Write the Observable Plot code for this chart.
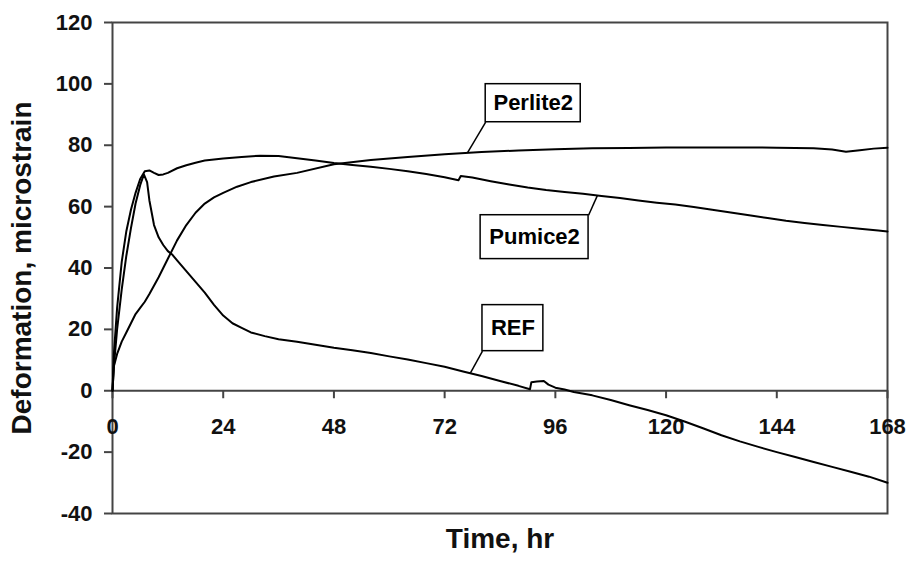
<!DOCTYPE html>
<html>
<head>
<meta charset="utf-8">
<script src="https://cdn.jsdelivr.net/npm/d3@7"></script>
<script src="https://cdn.jsdelivr.net/npm/@observablehq/plot@0.6"></script>
<style>
  html, body { margin: 0; padding: 0; background: #fff; }
</style>
</head>
<body>
<div id="chart"></div>
<script>
// ---- data ----
const refT = [0,0.3,1,2,3,4,5,6,6.8,7.5,8,9,10,11,12,13,14,16,18,20,22,24,26,28,30,33,36,40,44,48,52,56,60,64,68,72,76,80,84,88,90.5,90.8,92,93.5,94.5,96,98,100,104,108,112,116,120,124,128,132,136,140,144,148,152,156,160,164,168];
const refY = [0,8,20,33,44,53,61,67,70.5,68,62,54,50,47.5,45.5,44.3,42.5,39,35.5,32,28,24.5,22,20.5,19,17.8,16.8,16,15,14,13.2,12.3,11.2,10.2,9,7.8,6.3,4.8,3.2,1.6,0.5,2.8,3,3.2,2,1,0.4,-0.4,-1.5,-3,-4.7,-6.3,-8,-10,-12.2,-14.5,-16.5,-18.3,-20,-21.6,-23.2,-24.8,-26.4,-28,-30];

const pumiceT = [0,0.3,1,2,3,4,5,6,7,8,9,10,11,12,14,16,18,20,24,28,32,36,40,44,48,52,56,60,64,68,72,75,75.5,78,82,86,90,94,98,102,106,110,114,118,122,126,130,134,138,142,146,150,154,158,162,166,168];
const pumiceY = [0,12,27,42,52,59,64.5,69,71.5,71.8,71,70.3,70.5,71,72.5,73.5,74.3,75,75.7,76.2,76.6,76.5,75.8,75,74.2,73.6,73,72.3,71.5,70.6,69.6,68.6,70,69.5,68.3,67.2,66.2,65.4,64.8,64.2,63.5,62.8,62,61.3,60.7,59.9,59,58.1,57.2,56.3,55.4,54.7,54,53.4,52.8,52.2,51.9];

const perliteT = [0,0.3,1,2,3,4,5,6,7,8,10,12,14,16,18,20,22,24,27,30,35,40,48,56,64,72,80,88,96,104,112,120,128,136,144,152,156,159,162,165,168];
const perliteY = [0,8,12,16,19,22,25,27,29,31.5,37,43,49,54,58,61,63,64.5,66.5,68,69.8,71,73.8,75.2,76.2,77.1,77.8,78.3,78.7,79,79.1,79.3,79.3,79.3,79.2,79,78.6,77.9,78.4,78.9,79.2];

const xTicks = [0,24,48,72,96,120,144,168];
const yTicks = [-40,-20,0,20,40,60,80,100,120];

// annotation boxes (data units): label, box extent, leader end on curve
const labelNames = ["Perlite2","Pumice2","REF"];
const labelBoxT1 = [80.9, 79.8, 80.2];
const labelBoxT2 = [101.5, 103.2, 93.4];
const labelBoxY1 = [87.5, 42.9, 12.9];
const labelBoxY2 = [99.9, 57.2, 27.9];
const leaderFromT = [80.9, 103.2, 80.2];
const leaderFromY = [87.5, 57.2, 12.9];
const leaderToT = [77.0, 105.1, 77.6];
const leaderToY = [77.7, 63.6, 5.8];

// ---- build tables ----
const series = [
  ...refT.map((t, i) => ({t, v: refY[i], s: "REF"})),
  ...pumiceT.map((t, i) => ({t, v: pumiceY[i], s: "Pumice2"})),
  ...perliteT.map((t, i) => ({t, v: perliteY[i], s: "Perlite2"}))
];
const labels = labelNames.map((name, i) => ({
  name,
  x1: labelBoxT1[i], x2: labelBoxT2[i], y1: labelBoxY1[i], y2: labelBoxY2[i],
  fx: leaderFromT[i], fy: leaderFromY[i], tx: leaderToT[i], ty: leaderToY[i]
}));

const axisColor = "#444";

const chart = Plot.plot({
  width: 911,
  height: 567,
  marginTop: 22,
  marginRight: 24,
  marginBottom: 54,
  marginLeft: 112,
  style: {fontFamily: "'Liberation Sans', Arial, sans-serif", fontWeight: "bold", fontSize: "22px", background: "#fff"},
  x: {domain: [0, 168], axis: null},
  y: {domain: [-40, 120], axis: null},
  marks: [
    Plot.frame({stroke: axisColor, strokeWidth: 2}),
    Plot.axisY({ticks: yTicks, tickSize: 8, tickPadding: 12, tickFormat: d => String(d), label: null, fontSize: 22, fill: "#111", stroke: axisColor, strokeWidth: 2}),
    Plot.ruleY([0], {stroke: axisColor, strokeWidth: 2}),
    Plot.ruleX(xTicks, {x: d => d, y1: 0, y2: 0, insetBottom: -8, stroke: axisColor, strokeWidth: 2}),
    Plot.text(xTicks, {x: d => d, y: 0, dy: 36, text: d => String(d), fontSize: 22, fill: "#111"}),
    Plot.line(series, {x: "t", y: "v", z: "s", stroke: "#000", strokeWidth: 2}),
    Plot.link(labels, {x1: "fx", y1: "fy", x2: "tx", y2: "ty", stroke: "#000", strokeWidth: 1.5}),
    Plot.rect(labels, {x1: "x1", x2: "x2", y1: "y1", y2: "y2", fill: "#fff", stroke: "#000", strokeWidth: 1.5}),
    Plot.text(labels, {x: d => (d.x1 + d.x2) / 2, y: d => (d.y1 + d.y2) / 2, text: "name", fontSize: 22, fill: "#000"}),
    Plot.text(["Deformation, microstrain"], {frameAnchor: "left", dx: -90, rotate: -90, textAnchor: "middle", text: d => d, fontSize: 28, fill: "#111"}),
    Plot.text(["Time, hr"], {frameAnchor: "bottom", dy: 34, text: d => d, fontSize: 28, fill: "#111"})
  ]
});
document.getElementById("chart").appendChild(chart);
</script>
</body>
</html>
